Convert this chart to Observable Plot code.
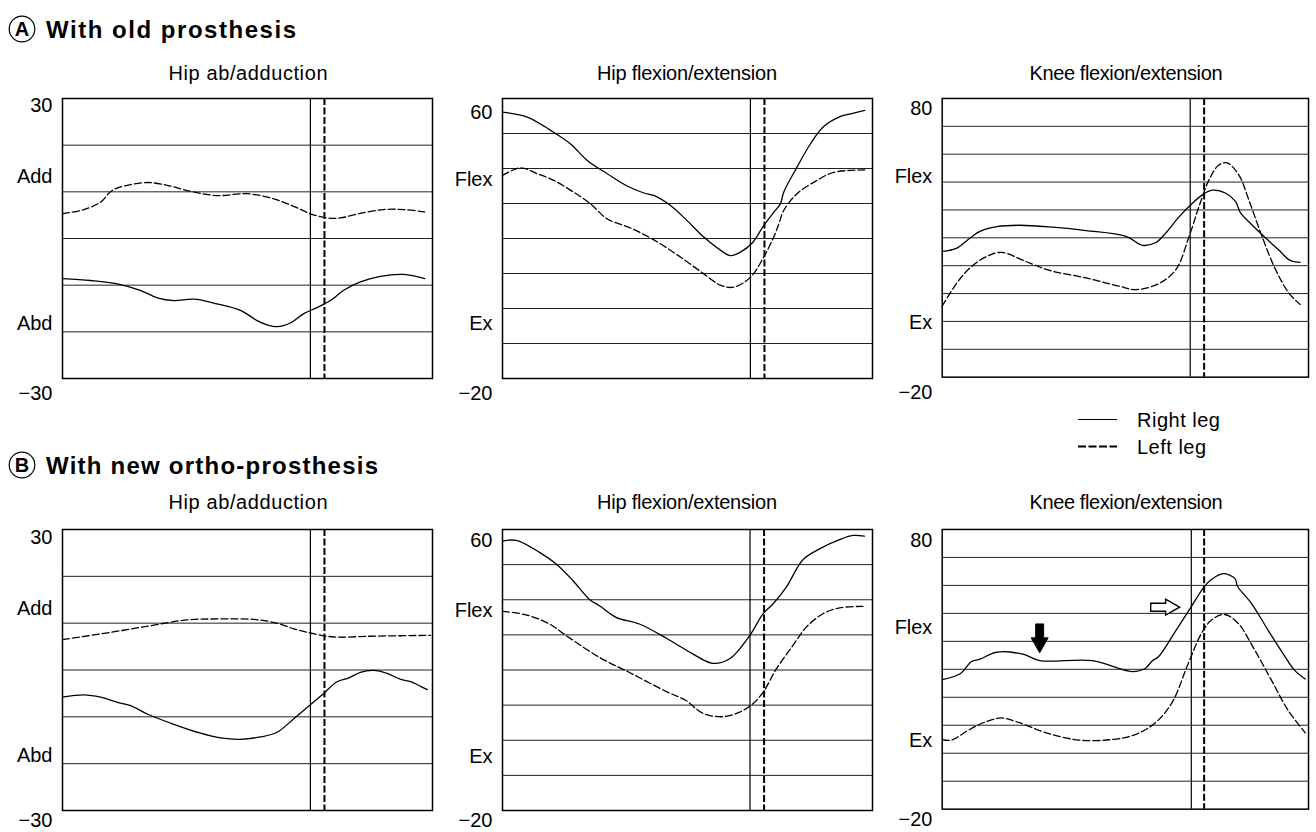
<!DOCTYPE html>
<html>
<head>
<meta charset="utf-8">
<script src="https://cdn.jsdelivr.net/npm/d3@7"></script>
<script src="https://cdn.jsdelivr.net/npm/@observablehq/plot@0.6"></script>
<style>
  html, body { margin: 0; padding: 0; background: #fff; }
  #page { position: relative; width: 1316px; height: 832px; overflow: hidden; background: #fff;
          font-family: "Liberation Sans", Arial, sans-serif; }
  .panel { position: absolute; }
  #overlay { position: absolute; left: 0; top: 0; pointer-events: none; }
</style>
</head>
<body>
<div id="page"></div>
<script>
// ---------------- DATA (gait cycle %, joint angle in degrees) ----------------
// Row A: with old prosthesis
const oldHipAbdRight = [[0,-8.6],[7.6,-9.0],[14.8,-9.7],[21,-11.1],[25.6,-12.7],[30.1,-13.3],[35.5,-13.0],[41.8,-14.0],[48.1,-15.4],[52.6,-17.6],[55.3,-18.5],[58.0,-18.9],[61.6,-18.1],[65.2,-16.1],[68.8,-14.8],[72.4,-13.3],[76.0,-11.1],[80.5,-9.3],[85.9,-8.1],[92.2,-7.7],[97.9,-8.6]];
const oldHipAbdLeft = [[0,5.3],[5.8,6.2],[10.3,7.8],[13.4,10.3],[17.5,11.4],[22.9,12.0],[28.3,11.4],[34.6,10.1],[41.8,9.2],[49.9,9.6],[57.1,8.5],[62.5,6.9],[67.0,5.3],[71.5,4.4],[75.1,4.4],[80.5,5.4],[86.8,6.2],[92.2,6.2],[97.9,5.7]];
const oldHipFlexRight = [[0,56.1],[6.7,54.7],[13.0,50.9],[18.4,47.0],[22.9,42.3],[28.3,38.5],[33.7,35.0],[38.2,33.0],[40.9,32.3],[45.4,29.4],[49.9,25.1],[54.4,20.4],[59.0,16.6],[61.6,15.1],[64.3,16.1],[67.5,18.7],[70.6,23.7],[73.3,27.5],[75.1,29.9],[76.0,33.2],[79.6,40.4],[83.2,47.0],[86.8,52.0],[91.4,54.9],[94.1,55.6],[97.9,56.6]];
const oldHipFlexLeft = [[0,38.0],[4.9,40.2],[9.4,38.5],[13.9,36.6],[19.3,33.2],[23.8,29.9],[28.3,25.6],[34.6,23.0],[40.9,19.6],[48.1,14.7],[54.4,9.9],[59.0,6.6],[62.5,6.1],[67.0,8.9],[70.6,14.7],[73.3,20.4],[74.7,24.2],[76.0,28.0],[79.6,32.8],[85.0,36.6],[89.5,38.9],[97.9,39.6]];
const oldKneeRight = [[0,25.1],[4.0,26.3],[7.6,29.9],[10.3,32.3],[14.9,34.0],[21.2,34.5],[30.2,33.8],[39.3,32.6],[50.2,30.5],[54.7,27.3],[58.3,28.3],[61.0,31.7],[64.7,37.6],[68.3,42.4],[71.0,45.4],[73.7,47.1],[77.4,46.0],[80.1,43.0],[81.4,39.0],[84.6,34.6],[88.3,29.9],[91.8,25.7],[95.0,21.9],[97.7,21.2]];
const oldKneeLeft = [[0,5.5],[4.0,13.8],[7.6,19.2],[12.1,23.3],[16.2,24.8],[22.1,21.9],[29.3,18.3],[39.3,15.6],[48.4,12.6],[52.9,11.4],[59.2,13.6],[63.8,18.6],[67.4,30.5],[70.1,41.2],[72.8,50.7],[75.5,56.1],[77.8,56.9],[81.0,52.5],[83.7,43.6],[87.3,30.5],[91.0,18.6],[94.6,10.2],[97.7,6.1]];

// Row B: with new ortho-prosthesis
const newHipAbdRight = [[0,-5.8],[5.8,-5.3],[10.3,-5.8],[14.8,-6.9],[18.4,-7.6],[22.9,-9.4],[30.1,-11.6],[37.3,-13.5],[42.7,-14.5],[48.1,-14.8],[53.5,-14.3],[58.0,-13.3],[62.5,-10.4],[67.0,-7.4],[70.6,-5.0],[74.2,-2.5],[77.4,-1.7],[80.5,-0.5],[84.1,-0.1],[87.7,-0.7],[91.4,-2.0],[94.1,-2.5],[96.8,-3.5],[98.6,-4.2]];
const newHipAbdLeft = [[0,6.5],[10.3,7.7],[21.1,9.1],[33.7,10.7],[42.7,10.9],[51.7,10.8],[58.0,10.0],[62.5,8.8],[67.0,7.9],[71.5,7.2],[75.1,7.0],[82.3,7.2],[99.5,7.4]];
const newHipFlexRight = [[0,56.7],[3.7,56.9],[10.0,53.5],[14.5,50.2],[19.0,45.5],[23.5,40.1],[26.2,38.3],[30.7,35.0],[37.0,33.1],[44.2,29.1],[46.9,27.4],[51.4,24.6],[56.8,21.9],[61.4,23.2],[66.8,29.8],[70.4,36.0],[73.1,38.8],[76.7,43.6],[81.2,51.4],[85.7,54.5],[91.1,57.1],[94.7,58.3],[97.8,58.1]];
const newHipFlexLeft = [[0,36.7],[6.4,35.7],[12.7,33.1],[17.2,29.8],[26.2,23.6],[34.3,19.3],[44.2,13.9],[49.6,11.3],[54.1,7.7],[59.5,6.7],[64.1,8.0],[67.6,10.3],[70.4,13.6],[74.0,20.3],[78.5,27.0],[82.1,32.2],[86.6,36.0],[91.1,37.7],[97.4,38.1]];
const newKneeRight = [[0,26.3],[4.9,28.4],[8.0,32.8],[10.3,33.6],[14.8,36.1],[22.0,35.4],[26.6,33.1],[41.0,33.1],[51.8,29.2],[55.5,30.4],[57.3,33.0],[59.1,34.6],[63.6,43.5],[67.7,51.8],[71.5,59.5],[73.5,62.1],[76.7,64.2],[79.9,62.5],[80.6,59.7],[84.4,53.6],[88.9,44.1],[93.4,34.9],[96.1,29.8],[99.1,26.5]];
const newKneeLeft = [[0,4.9],[2.6,4.7],[6.7,7.9],[11.2,10.9],[16.2,12.6],[21.1,10.9],[28.4,7.3],[37.4,4.7],[46.4,4.9],[52.8,6.7],[58.2,10.9],[62.7,18.0],[67.2,32.2],[70.8,42.9],[73.5,47.6],[77.1,49.6],[80.8,46.4],[85.3,36.9],[89.8,26.3],[94.3,15.6],[99.1,7.3]];

// Toe-off markers (gait cycle %), per panel [hip ab/add, hip flex/ext, knee flex/ext]
const toeOffRightA = [67.0, 67.0, 67.7];
const toeOffLeftA  = [70.8, 70.8, 71.5];
const toeOffRightB = [67.0, 66.9, 68.0];
const toeOffLeftB  = [70.8, 70.7, 71.5];

// Axis ranges and grid values (degrees)
const domainAbd  = [-30, 30];
const domainHip  = [-20, 60];
const domainKnee = [-20, 80];
const gridAbd  = [-20, -10, 0, 10, 20];
const gridHip  = [-10, 0, 10, 20, 30, 40, 50];
const gridKnee = [-10, 0, 10, 20, 30, 40, 50, 60, 70];

// Axis labels (text, value where it sits)
const labelsA1 = [["30", 28.5], ["Add", 13.3], ["Abd", -18.2], ["\u221230", -33.2]];
const labelsA2 = [["60", 56.0], ["Flex", 36.9], ["Ex", -4.3], ["\u221220", -24.3]];
const labelsA3 = [["80", 76.4], ["Flex", 51.8], ["Ex", -0.4], ["\u221220", -25.4]];
const labelsB1 = [["30", 28.3], ["Add", 13.1], ["Abd", -18.3], ["\u221230", -32.1]];
const labelsB2 = [["60", 56.9], ["Flex", 36.9], ["Ex", -4.6], ["\u221220", -22.8]];
const labelsB3 = [["80", 76.0], ["Flex", 45.0], ["Ex", 4.6], ["\u221220", -23.6]];

// Arrow annotations in B knee panel (tip position: gait %, degrees)
const arrowDown  = [[26.6, 35.9]];
const arrowRight = [[64.8, 52.2]];

const panelTitles = ["Hip ab/adduction", "Hip flexion/extension", "Knee flexion/extension"];
const rowTitles = [["A", "With old prosthesis"], ["B", "With new ortho-prosthesis"]];
const legendItems = ["Right leg", "Left leg"];

// ---------------- DRAWING ----------------
const FONT = "'Liberation Sans', Arial, sans-serif";
const page = document.getElementById("page");

const downSymbol = { draw(ctx) {
  ctx.moveTo(0, 0); ctx.lineTo(-8.5, -15); ctx.lineTo(-4, -15); ctx.lineTo(-4, -29);
  ctx.lineTo(4, -29); ctx.lineTo(4, -15); ctx.lineTo(8.5, -15); ctx.closePath();
}};
const rightSymbol = { draw(ctx) {
  ctx.moveTo(0, 0); ctx.lineTo(-14, -8); ctx.lineTo(-14, -4); ctx.lineTo(-29, -4);
  ctx.lineTo(-29, 4); ctx.lineTo(-14, 4); ctx.lineTo(-14, 8); ctx.closePath();
}};

function panel({left, top, plotW, plotH, domain, grid, labels, right, leftLeg, toeR, toeL, extra = []}) {
  const mT = 10, mB = 22, mL = 62;
  const chart = Plot.plot({
    width: mL + plotW + 8, height: mT + plotH + mB,
    marginLeft: mL, marginRight: 8, marginTop: mT, marginBottom: mB,
    x: {domain: [0, 100], axis: null},
    y: {domain, axis: null},
    style: {fontFamily: FONT, background: "transparent", overflow: "visible"},
    marks: [
      Plot.ruleY(grid, {stroke: "#222", strokeWidth: 1}),
      Plot.ruleX([toeR], {stroke: "#000", strokeWidth: 1.2}),
      Plot.ruleX([toeL], {stroke: "#000", strokeWidth: 2, strokeDasharray: "7,2.5"}),
      Plot.line(right, {curve: "catmull-rom", stroke: "#000", strokeWidth: 1.3}),
      Plot.line(leftLeg, {curve: "catmull-rom", stroke: "#000", strokeWidth: 1.3, strokeDasharray: "7,3"}),
      Plot.frame({stroke: "#000", strokeWidth: 1.5}),
      Plot.text(labels, {y: d => d[1], text: d => d[0], frameAnchor: "left", textAnchor: "end",
        dx: -10, fontSize: 20, fill: "#000", letterSpacing: 0.5}),
      ...extra
    ]
  });
  const wrap = document.createElement("div");
  wrap.className = "panel";
  wrap.style.left = left + "px";
  wrap.style.top = (top - mT) + "px";
  wrap.appendChild(chart);
  page.appendChild(wrap);
}

const cols = [{left: 0, w: 370}, {left: 440, w: 370}, {left: 880, w: 368}];
const rowA = {top: 98, h: 280}, rowB = {top: 529, h: 281};

const arrowMarks = [
  Plot.dot(arrowDown, {x: d => d[0], y: d => d[1], symbol: downSymbol, fill: "#000", stroke: "#000", strokeWidth: 1}),
  Plot.dot(arrowRight, {x: d => d[0], y: d => d[1], symbol: rightSymbol, fill: "#fff", stroke: "#000", strokeWidth: 1.4})
];

const specsA = [
  {domain: domainAbd, grid: gridAbd, labels: labelsA1, right: oldHipAbdRight, leftLeg: oldHipAbdLeft},
  {domain: domainHip, grid: gridHip, labels: labelsA2, right: oldHipFlexRight, leftLeg: oldHipFlexLeft},
  {domain: domainKnee, grid: gridKnee, labels: labelsA3, right: oldKneeRight, leftLeg: oldKneeLeft}
];
const specsB = [
  {domain: domainAbd, grid: gridAbd, labels: labelsB1, right: newHipAbdRight, leftLeg: newHipAbdLeft},
  {domain: domainHip, grid: gridHip, labels: labelsB2, right: newHipFlexRight, leftLeg: newHipFlexLeft},
  {domain: domainKnee, grid: gridKnee, labels: labelsB3, right: newKneeRight, leftLeg: newKneeLeft, extra: arrowMarks}
];

specsA.forEach((s, i) => panel({...s, left: cols[i].left, top: rowA.top, plotW: cols[i].w, plotH: rowA.h,
  toeR: toeOffRightA[i], toeL: toeOffLeftA[i]}));
specsB.forEach((s, i) => panel({...s, left: cols[i].left, top: rowB.top, plotW: cols[i].w, plotH: rowB.h,
  toeR: toeOffRightB[i], toeL: toeOffLeftB[i]}));

// ---------------- Titles & legend overlay ----------------
const ns = "http://www.w3.org/2000/svg";
const ov = document.createElementNS(ns, "svg");
ov.setAttribute("id", "overlay");
ov.setAttribute("width", 1316);
ov.setAttribute("height", 832);
page.appendChild(ov);
function el(tag, attrs, text) {
  const e = document.createElementNS(ns, tag);
  for (const k in attrs) e.setAttribute(k, attrs[k]);
  if (text != null) e.textContent = text;
  ov.appendChild(e);
  return e;
}
const rowTitleY = [38, 474];
const rowTitleWidths = [250, 332];
const panelTitleY = [80, 509];
const titleCenters = [248, 687, 1126];
const titleWidths = [159, 180, 193];
rowTitles.forEach(([letter, txt], r) => {
  const cy = rowTitleY[r] - 9;
  el("circle", {cx: 22, cy, r: 12.8, fill: "none", stroke: "#000", "stroke-width": 1.2});
  el("text", {x: 22, y: cy + 7.3, "text-anchor": "middle", "font-family": FONT, "font-size": 20, "font-weight": "bold"}, letter);
  el("text", {x: 46, y: rowTitleY[r], "font-family": FONT, "font-size": 24, "font-weight": "bold",
    textLength: rowTitleWidths[r], lengthAdjust: "spacing"}, txt);
  panelTitles.forEach((t, c) => {
    el("text", {x: titleCenters[c] - titleWidths[c] / 2, y: panelTitleY[r], "font-family": FONT, "font-size": 20,
      textLength: titleWidths[c], lengthAdjust: "spacing"}, t);
  });
});
// legend
el("line", {x1: 1078, x2: 1117, y1: 419.5, y2: 419.5, stroke: "#000", "stroke-width": 1.2});
el("line", {x1: 1078, x2: 1117, y1: 446.5, y2: 446.5, stroke: "#000", "stroke-width": 2, "stroke-dasharray": "8,2.5"});
el("text", {x: 1137, y: 427, "font-family": FONT, "font-size": 20, "letter-spacing": 0.5}, legendItems[0]);
el("text", {x: 1137, y: 454, "font-family": FONT, "font-size": 20, "letter-spacing": 0.5}, legendItems[1]);
</script>
</body>
</html>
